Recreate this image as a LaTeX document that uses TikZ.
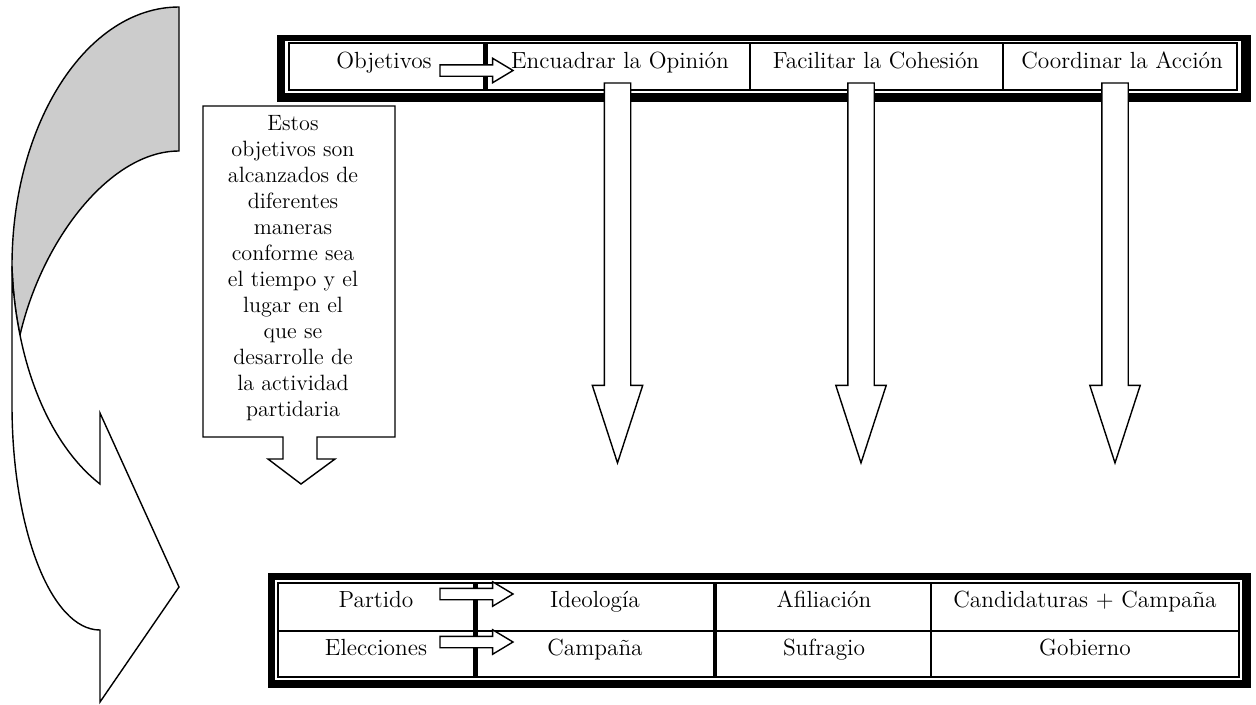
\documentclass[tikz,border=0pt]{standalone}
\usetikzlibrary{shapes.arrows}
\tikzset{
  txt/.style={font=\fontsize{13.3}{16}\selectfont, anchor=base, inner sep=0pt},
  thinln/.style={line width=0.6pt},
  downarr/.style={single arrow, draw, fill=white, line width=0.8pt, rotate=-90,
    anchor=tail, inner xsep=0pt, inner ysep=0.25cm, outer sep=0pt, minimum height=7.6cm,
    minimum width=0.98cm, single arrow head extend=0.24cm, single arrow tip angle=36},
  rightarr/.style={single arrow, draw, fill=white, line width=0.8pt,
    anchor=tail, inner xsep=0pt, inner ysep=0.1cm, outer sep=0pt, minimum height=1.46cm,
    minimum width=0.46cm, single arrow head extend=0.13cm, single arrow tip angle=62}
}
\begin{document}
\begin{tikzpicture}[x=0.02cm, y=-0.02cm]
  \useasboundingbox (0,0) rectangle (1256,704);
  % top table
  \fill (277,35) rectangle (1251,102);
  \fill[white] (285,41) rectangle (1241,93);
  \draw[thinln] (289,43) rectangle (1237,90);
  \draw[line width=2.8pt] (485.5,43) -- (485.5,90);
  \draw[thinln] (750,43) -- (750,90);
  \draw[thinln] (1003,43) -- (1003,90);
  \node[txt] (obj) at (384,68) {Objetivos};
  \node[txt] (enc) at (620,68) {Encuadrar la Opinión};
  \node[txt] (fac) at (876,68) {Facilitar la Cohesión};
  \node[txt] (coo) at (1122,68) {Coordinar la Acción};
  % bottom table
  \fill (268,573) rectangle (1251,688);
  \fill[white] (275,580) rectangle (1242,680);
  \draw[thinln] (278,583) rectangle (1239,677);
  \draw[thinln] (278,631) -- (1239,631);
  \draw[line width=2.8pt] (475.5,583) -- (475.5,677);
  \draw[line width=2.3pt] (715,583) -- (715,677);
  \draw[line width=1.2pt] (931,583) -- (931,677);
  \node[txt] (par) at (376,607) {Partido};
  \node[txt] (ide) at (595,607) {Ideología};
  \node[txt] (afi) at (824,607) {Afiliación};
  \node[txt] (can) at (1085,607) {Candidaturas + Campaña};
  \node[txt] (ele) at (376,655) {Elecciones};
  \node[txt] (cam) at (595,655) {Campaña};
  \node[txt] (suf) at (824,655) {Sufragio};
  \node[txt] (gob) at (1085,655) {Gobierno};
  % small arrows
  \node[rightarr] (objarr) at (440,70.5) {};
  \node[rightarr] (pararr) at (440,594) {};
  \node[rightarr] (elearr) at (440,642) {};
  % down arrows
  \node[downarr] (downa) at (617.5,83) {};
  \node[downarr] (downb) at (861,83) {};
  \node[downarr] (downc) at (1115,83) {};
  % callout
  \draw[line width=0.8pt, fill=white] (203,106) -- (395,106) -- (395,437) -- (317,437)
    -- (317,459) -- (335,459) -- (301,484) -- (268,459) -- (283,459) -- (283,437)
    -- (203,437) -- cycle;
  \node[font=\fontsize{12.6}{14.8}\selectfont, align=center, inner sep=0pt] (note) at (293,268)
    {Estos\\objetivos son\\alcanzados de\\diferentes\\maneras\\conforme sea\\el tiempo y el\\lugar en el\\que se\\desarrolle de\\la actividad\\partidaria};
  % curved arrow
  \draw[line width=0.8pt, fill=black!20] (179,7) .. controls (87,7) and (12,123) .. (12,266)
    .. controls (12.75,290.5) and (15.5,313) .. (20,335)
    .. controls (42,240) and (110,151) .. (179,151) -- cycle;
  \draw[line width=0.8pt, fill=white] (12,266) -- (12,405)
    .. controls (12,529) and (51,630) .. (100,630) -- (100,702) -- (179,587)
    -- (100,413) -- (100,484) .. controls (62.5,454.75) and (33.4,401.9) .. (20,335)
    .. controls (15.5,313) and (12.75,290.5) .. (12,266) -- cycle;
\end{tikzpicture}
\end{document}
